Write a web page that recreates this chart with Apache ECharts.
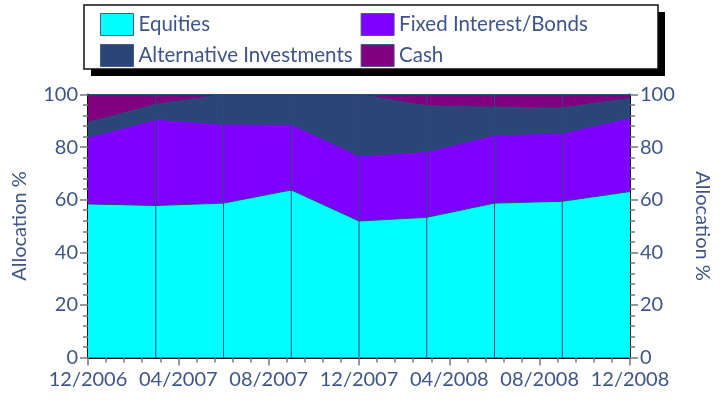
<!DOCTYPE html>
<html>
<head>
<meta charset="utf-8">
<script src="https://cdn.jsdelivr.net/npm/echarts@6/dist/echarts.min.js"></script>
<style>
  html, body { margin: 0; padding: 0; background: #fff; }
  #main { width: 722px; height: 401px; }
</style>
</head>
<body>
<div id="main"></div>
<script>
// quarterly allocation dates (MM/YYYY)
var dates = ['12/2006', '03/2007', '06/2007', '09/2007', '12/2007', '03/2008', '06/2008', '09/2008', '12/2008'];
var equities = [58.4, 57.8, 58.7, 63.7, 51.9, 53.3, 58.7, 59.4, 63.1];
var fixedInterest = [25.3, 32.8, 30.1, 25.0, 24.8, 25.0, 25.9, 26.0, 28.1];
var alternative = [5.7, 5.7, 11.2, 11.3, 23.3, 17.4, 10.6, 9.5, 7.4];
var cash = [10.6, 3.7, 0, 0, 0, 4.3, 4.8, 5.1, 1.4];
var yTicks = [0, 20, 40, 60, 80, 100];

var textColor = '#3f5588';
var fontFamily = 'Lato';

// month offset from 12/2006
function toMonth(s) {
    var p = s.split('/');
    return (parseInt(p[1], 10) - 2006) * 12 + parseInt(p[0], 10) - 12;
}
function monthLabel(v) {
    var m = 12 + v;
    var year = 2006 + Math.floor((m - 1) / 12);
    var mm = ((m - 1) % 12) + 1;
    return (mm < 10 ? '0' : '') + mm + '/' + year;
}

// cumulative tops, bottom layer first
var layers = [equities, fixedInterest, alternative, cash];
var cumulative = [];
layers.forEach(function (arr, k) {
    cumulative.push(arr.map(function (v, i) {
        return k === 0 ? v : cumulative[k - 1][i] + v;
    }));
});
function pairs(arr) {
    return arr.map(function (v, i) { return [toMonth(dates[i]), +v.toFixed(2)]; });
}

var myChart = echarts.init(document.getElementById('main'));

function yAxisOpt(pos) {
    return {
        type: 'value',
        position: pos,
        min: yTicks[0],
        max: yTicks[yTicks.length - 1],
        interval: 20,
        name: 'Allocation %',
        nameLocation: 'middle',
        nameRotate: pos === 'left' ? 90 : -90,
        nameGap: pos === 'left' ? 58 : 62,
        nameTextStyle: { color: textColor, fontSize: 20, fontFamily: fontFamily },
        axisLine: { show: true, lineStyle: { color: '#111', width: 2 } },
        axisTick: { show: true, length: 8, lineStyle: { color: '#777', width: 1.5 } },
        minorTick: { show: true, splitNumber: 5, length: 5, lineStyle: { color: '#777', width: 1.5 } },
        splitLine: { show: false },
        axisLabel: { color: textColor, fontSize: 20, fontFamily: fontFamily, margin: 10 }
    };
}

var names = ['Equities', 'Fixed Interest/Bonds', 'Alternative Investments', 'Cash'];
var colors = ['#00ffff', '#7f00ff', '#2a4577', '#800080'];

// draw the top layer first so lower layers paint over it
var series = [];
for (var k = layers.length - 1; k >= 0; k--) {
    series.push({
        name: names[k],
        type: 'line',
        symbol: 'none',
        data: pairs(cumulative[k]),
        itemStyle: { color: colors[k] },
        areaStyle: { color: colors[k], opacity: 1, origin: 'start' },
        lineStyle: { color: '#2b4a7a', width: 1 },
        z: 2 + (layers.length - k),
        emphasis: { disabled: true }
    });
}
// vertical divider at each interior date
dates.slice(1, -1).forEach(function (d) {
    series.push({
        type: 'line',
        symbol: 'none',
        silent: true,
        data: [[toMonth(d), yTicks[0]], [toMonth(d), yTicks[yTicks.length - 1]]],
        lineStyle: { color: '#2b4a7a', width: 1 },
        z: 10
    });
});

myChart.setOption({
    animation: false,
    graphic: [
        { type: 'rect', shape: { x: 91, y: 12, width: 574, height: 64 }, style: { fill: '#000' }, z: 0 },
        { type: 'rect', shape: { x: 84, y: 5, width: 574, height: 64 }, style: { fill: '#fff', stroke: '#111', lineWidth: 1.5 }, z: 1 }
    ],
    legend: {
        orient: 'vertical',
        left: 95,
        top: 8,
        height: 56,
        itemWidth: 33,
        itemHeight: 22,
        itemGap: 8,
        icon: 'rect',
        itemStyle: { borderColor: '#4a5a80', borderWidth: 1 },
        textStyle: { color: textColor, fontSize: 20.5, fontFamily: fontFamily },
        data: ['Equities', 'Alternative Investments', 'Fixed Interest/Bonds', 'Cash'],
        z: 10
    },
    grid: { left: 88, right: 92, top: 94.5, bottom: 43.5, outerBoundsMode: 'none' },
    xAxis: {
        type: 'value',
        min: 0,
        max: 24,
        interval: 4,
        axisLine: { lineStyle: { color: '#111', width: 2 } },
        axisTick: { show: true, length: 8, lineStyle: { color: '#777', width: 1.5 } },
        minorTick: { show: true, splitNumber: 5, length: 5, lineStyle: { color: '#777', width: 1.5 } },
        splitLine: { show: false },
        axisLabel: {
            color: textColor, fontSize: 20, fontFamily: fontFamily, margin: 12,
            formatter: function (v) { return monthLabel(v); }
        }
    },
    yAxis: [yAxisOpt('left'), yAxisOpt('right')],
    series: series
});
</script>
</body>
</html>
